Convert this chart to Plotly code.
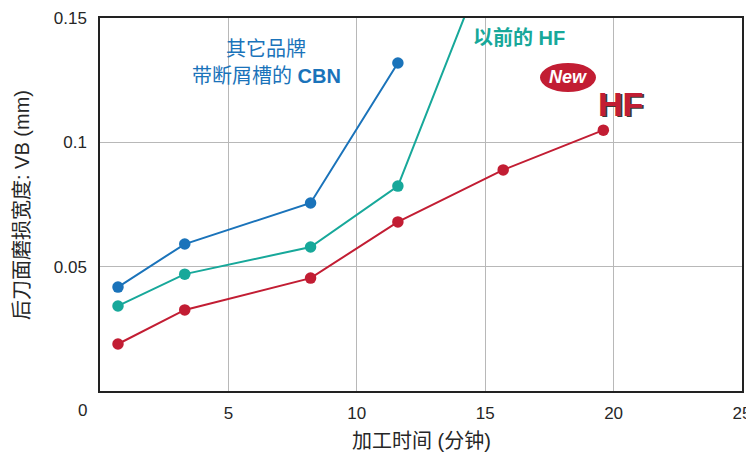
import plotly.graph_objects as go

# Data
other_x = [0.7, 3.3, 8.2, 11.6]
other_y = [0.0418, 0.0591, 0.0756, 0.1319]

prev_x = [0.7, 3.3, 8.2, 11.6, 15.7]
prev_y = [0.0342, 0.0470, 0.0579, 0.0824, 0.190]

new_x = [0.7, 3.3, 8.2, 11.6, 15.7, 19.6]
new_y = [0.0189, 0.0326, 0.0454, 0.0680, 0.0889, 0.1049]

x_ticks = [5, 10, 15, 20, 25]
y_ticks = [0.05, 0.1, 0.15]
y_tick_text = ["0.05", "0.1", "0.15"]

BLUE = "#1a73ba"
TEAL = "#17a89a"
RED = "#c21d33"
TXT = "#262626"

FONT = "Liberation Sans, Noto Sans CJK SC, sans-serif"

fig = go.Figure()
for xs, ys, c in [(other_x, other_y, BLUE), (prev_x, prev_y, TEAL), (new_x, new_y, RED)]:
    fig.add_trace(go.Scatter(x=xs, y=ys, mode="lines+markers",
                             line=dict(color=c, width=2),
                             marker=dict(color=c, size=11.5),
                             showlegend=False, hoverinfo="skip"))

# page offset from default body margin
OFF = 8
W, H = 754 - OFF, 457 - OFF
# plot area in page pixels: x 100..742, y 18..391
L = 100 - OFF
T = 18 - OFF
R = W - (742 - OFF)
B = H - (391 - OFF)
pw, ph = W - L - R, H - T - B

def px(x):
    return (x - OFF - L) / pw

def py(y):
    return (H - B - (y - OFF)) / ph

LOGO_FONT = "Liberation Sans, Arial, sans-serif"
annotations = [
    dict(x=px(266), y=py(49), text="其它品牌", font=dict(color=BLUE, size=20)),
    dict(x=px(266), y=py(76), text="带断屑槽的 <b>CBN</b>", font=dict(color=BLUE, size=20)),
    dict(x=px(519), y=py(38), text="<b>以前的 HF</b>", font=dict(color=TEAL, size=20)),
    dict(x=px(568), y=py(77), text="<b><i>New</i></b>", font=dict(color="white", size=18, family=LOGO_FONT)),
    dict(x=px(622), y=py(105), text="<b>HF</b>", font=dict(color="#3a3a3a", size=34, family=LOGO_FONT)),
    dict(x=px(620), y=py(103.5), text="<b>HF</b>", font=dict(color=RED, size=34, family=LOGO_FONT)),
    dict(x=px(82), y=py(410), text="0", font=dict(color=TXT, size=17)),
    dict(x=px(22), y=py(205), text="后刀面磨损宽度: VB (mm)", textangle=-90, font=dict(color=TXT, size=20)),
    dict(x=px(421), y=py(441), text="加工时间 (分钟)", font=dict(color=TXT, size=20)),
]
for a in annotations:
    a.update(xref="paper", yref="paper", showarrow=False, xanchor="center", yanchor="middle")

fig.update_layout(
    width=W, height=H,
    margin=dict(l=L, r=R, t=T, b=B, autoexpand=False),
    paper_bgcolor="white", plot_bgcolor="white",
    font=dict(family=FONT, size=17, color=TXT),
    annotations=annotations,
    shapes=[dict(type="circle", xref="paper", yref="paper",
                 x0=px(540), x1=px(596), y0=py(92), y1=py(63),
                 fillcolor=RED, line=dict(width=0), layer="above")],
    xaxis=dict(range=[0, 25], tickvals=x_ticks, ticks="", showgrid=True,
               gridcolor="#b8b8b8", gridwidth=1, showline=True, mirror=True,
               linecolor="#222", linewidth=1.5, zeroline=False, automargin=False,
               ticklabelstandoff=6,
               tickfont=dict(size=17, color=TXT), fixedrange=True),
    yaxis=dict(range=[0, 0.15], tickvals=y_ticks, ticktext=y_tick_text, ticks="",
               showgrid=True, gridcolor="#b8b8b8", gridwidth=1, showline=True,
               mirror=True, linecolor="#222", linewidth=1.5, zeroline=False,
               automargin=False, ticklabelstandoff=8,
               tickfont=dict(size=17, color=TXT), fixedrange=True),
)

fig.write_html("out.html")
